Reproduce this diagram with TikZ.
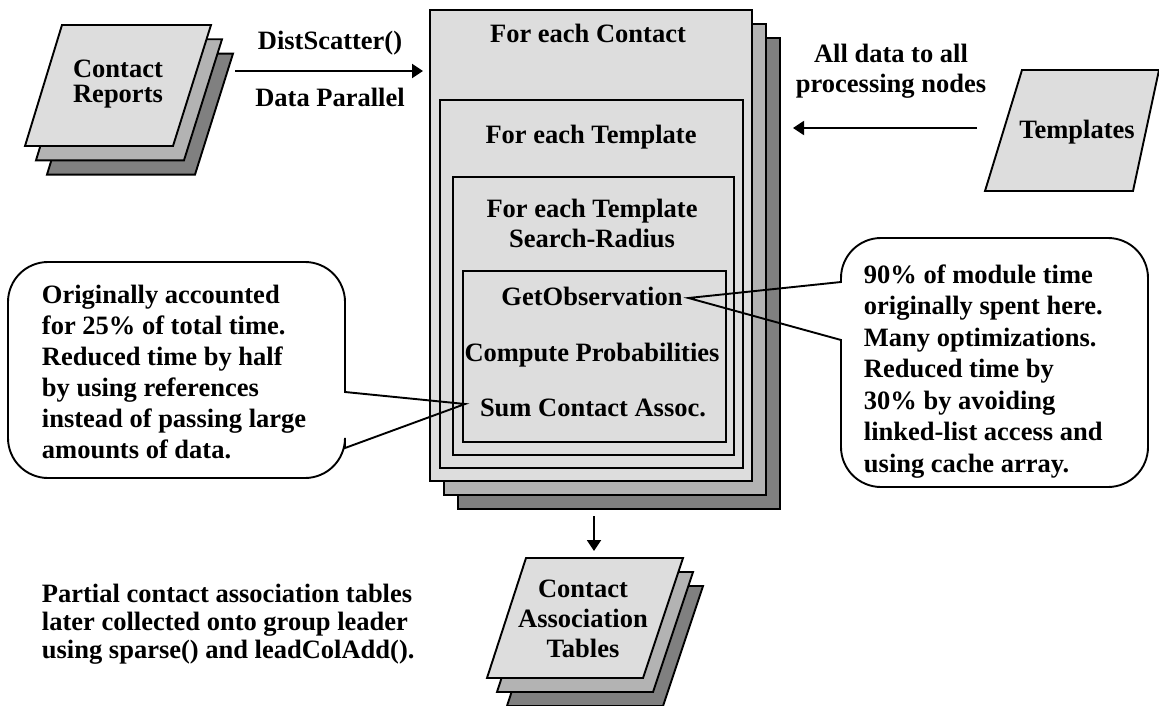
\documentclass[tikz,border=0pt]{standalone}
\usepackage{fontspec}
\setmainfont{Liberation Serif}
\usetikzlibrary{arrows.meta}
\definecolor{pagelight}{HTML}{DDDDDD}
\definecolor{pagemid}{HTML}{B3B3B3}
\definecolor{pagedark}{HTML}{808080}
\tikzset{
  txt/.style={font=\fontsize{26.5}{#1}\selectfont\bfseries, inner sep=0pt, align=center, anchor=base},
  txt/.default=30,
  note/.style={txt=#1, align=left, anchor=base west},
  loopbox/.style={draw, fill=pagelight, outer sep=0pt, inner sep=0pt},
  arr/.style={-{Triangle[length=11pt,width=14pt]}}
}
\begin{document}
\begin{tikzpicture}[x=1pt,y=-1pt,line width=1.9pt]
\useasboundingbox (0,0) rectangle (1159,706);
\foreach \d/\c in {22/pagedark,11/pagemid,0/pagelight}
  \draw [fill=\c,shift={(\d,\d*1.3)}] (62,25) -- (211,25) -- (173,146) -- (25,146) -- cycle;
\node [txt=25] (reports) at (118,103) {Contact\\Reports};
\foreach \d/\c in {28/pagedark,14/pagemid}
  \draw [fill=\c,shift={(\d,\d)}] (430,10) rectangle (752,481);
\node [loopbox, minimum width=322, minimum height=471] (contact-box) at (591,245.5) {};
\node [loopbox, minimum width=303, minimum height=368] (template-box) at (591.5,284) {};
\node [loopbox, minimum width=281, minimum height=278] (radius-box) at (593.5,316) {};
\node [loopbox, minimum width=263, minimum height=171] (inner-box) at (594.5,356.5) {};
\node [txt] (contact-lbl) at (588,43) {For each Contact};
\node [txt] (template-lbl) at (591,144) {For each Template};
\node [txt=30] (radius-lbl) at (592,247) {For each Template\\Search-Radius};
\node [txt] (getobs) at (592,305) {GetObservation};
\node [txt] (compute) at (592,361) {Compute Probabilities};
\node [txt] (sumassoc) at (593,416) {Sum Contact Assoc.};
\coordinate (scatter-start) at (235,71);
\draw [arr,shorten >=7pt] (scatter-start) -- (scatter-start -| contact-box.west);
\node [txt] (scatter-lbl) at (330,50) {DistScatter()};
\node [txt] (parallel-lbl) at (330,107) {Data Parallel};
\draw [fill=pagelight] (1022,70) -- (1159,70) -- (1133,191) -- (985,191) -- cycle;
\node [txt] (templates) at (1077,139) {Templates};
\coordinate (bcast-start) at (977,128);
\coordinate (bcast-end) at (793,128);
\draw [arr] (bcast-start) -- (bcast-end);
\node [txt=30] (bcast-lbl) at (891,93) {All data to all\\processing nodes};
\foreach \d/\c in {20/pagedark,10/pagemid,0/pagelight}
  \draw [fill=\c,shift={(\d,\d*1.4)}] (526,558) -- (683,558) -- (643,678) -- (487,678) -- cycle;
\node [txt=30] (tables) at (583,657) {Contact\\Association\\Tables};
\coordinate (gather-start) at (594,516);
\coordinate (gather-end) at (594,551);
\draw [arr] (gather-start) -- (gather-end);
\node [note=28] (gather-lbl) at (41,658) {Partial contact association tables\\later collected onto group leader\\using sparse() and leadColAdd().};
\draw (345,392) [rounded corners=40pt] -- (345,262) -- (8,262) -- (8,478) -- (345,478) [sharp corners] -- (345,448) -- ([xshift=-14pt,yshift=12pt]sumassoc.base west) -- cycle;
\node [note=31] (refs-lbl) at (41,458) {Originally accounted\\for 25\% of total time.\\Reduced time by half\\by using references\\instead of passing large\\amounts of data.};
\draw (841,282) [rounded corners=40pt] -- (841,238) -- (1148,238) -- (1148,487) -- (841,487) [sharp corners] -- (841,340) -- ([xshift=5pt,yshift=7pt]getobs.base east) -- cycle;
\node [note=31.5] (cache-lbl) at (863,472) {90\% of module time\\originally spent here.\\Many optimizations.\\Reduced time by\\30\% by avoiding\\linked-list access and\\using cache array.};
\end{tikzpicture}
\end{document}
